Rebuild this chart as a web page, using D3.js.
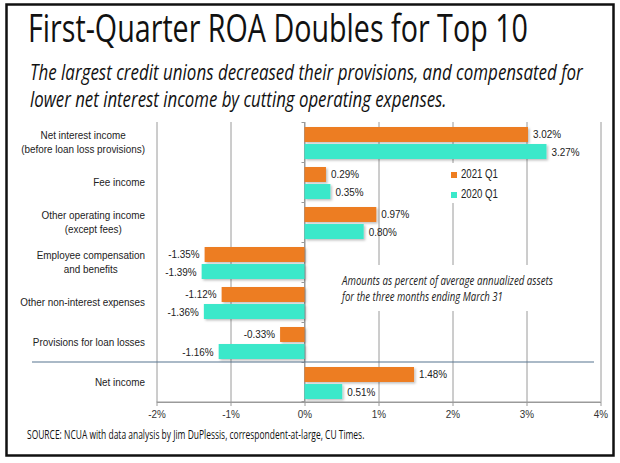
<!DOCTYPE html>
<html><head><meta charset="utf-8">
<script src="https://cdn.jsdelivr.net/npm/d3@7"></script>
<style>body{margin:0;background:#fff}svg{display:block}</style>
</head><body>
<svg id="c" width="620" height="463"></svg>
<script>
const categories = [
  ["Net interest income", "(before loan loss provisions)"],
  ["Fee income"],
  ["Other operating income", "(except fees)"],
  ["Employee compensation", "and benefits"],
  ["Other non-interest expenses"],
  ["Provisions for loan losses"],
  ["Net income"]
];
const seriesNames = ["2021 Q1", "2020 Q1"];
const values2021 = [3.02, 0.29, 0.97, -1.35, -1.12, -0.33, 1.48];
const values2020 = [3.27, 0.35, 0.80, -1.39, -1.36, -1.16, 0.51];
const xTicks = [-2, -1, 0, 1, 2, 3, 4];
const colors = ["#ED7D22", "#3BE8CA"];

const title = "First-Quarter ROA Doubles for Top 10";
const subtitle = ["The largest credit unions decreased their provisions, and compensated for",
                  "lower net interest income by cutting operating expenses."];
const note = ["Amounts as percent of average annualized assets", "for the three months ending March 31"];
const source = "SOURCE: NCUA with data analysis by Jim DuPlessis, correspondent-at-large, CU Times.";

const svg = d3.select("#c");
const condensed = "'Open Sans', 'Liberation Sans', sans-serif";
const arial = "'Liberation Sans', Arial, sans-serif";
const NARROW = 0.9;

function place(parent, px, py, str, opts) {
  const g = parent.append("g").attr("transform", `translate(${px},${py})`);
  const t = g.append("text").attr("x", 0).attr("y", 0).text(str)
    .attr("text-anchor", opts.anchor || "start")
    .attr("font-family", opts.family || arial)
    .attr("font-size", opts.size || 11)
    .attr("fill", opts.fill || "#222");
  if (opts.italic) t.attr("font-style", "italic");
  if (opts.weight) t.attr("font-weight", opts.weight);
  let s = opts.scale || 1;
  if (opts.width) s = opts.width / t.node().getComputedTextLength();
  g.attr("transform", `translate(${px},${py}) scale(${s},1)`);
  return t;
}

// frame
svg.append("rect").attr("x", 6.5).attr("y", 4.5).attr("width", 607).attr("height", 451)
  .attr("fill", "#fff").attr("stroke", "#111").attr("stroke-width", 2.5);

const defs = svg.append("defs");
const f = defs.append("filter").attr("id", "sh").attr("x", "-10%").attr("y", "-30%").attr("width", "130%").attr("height", "170%");
f.append("feDropShadow").attr("dx", 1.5).attr("dy", 1.5).attr("stdDeviation", 1).attr("flood-color", "#000").attr("flood-opacity", 0.25);

// titles
place(svg, 28, 42, title, {family: condensed, size: 38, fill: "#111", width: 500});
const subW = [553, 417];
subtitle.forEach((s, i) => {
  place(svg, 30, 80 + i * 27, s, {family: condensed, size: 21, italic: true, fill: "#111", width: subW[i]});
});

// scales
const x = d3.scaleLinear().domain([-2, 4]).range([156.5, 600.5]);
const y = d3.scaleBand().domain(d3.range(categories.length)).range([122, 402]).padding(0);
const ys = d3.scaleBand().domain(seriesNames).range([5, 37]).paddingInner(0.12);

// gridlines via axis
const xAxis = d3.axisBottom(x).tickValues(xTicks).tickFormat(d => d + "%")
  .tickSize(-(402 - 122)).tickSizeOuter(0).tickPadding(8);
const gx = svg.append("g").attr("transform", "translate(0,402)").call(xAxis);
gx.select(".domain").attr("stroke", "#9a9a9a");
gx.selectAll(".tick line").attr("stroke", "#9a9a9a").attr("y2", -(402 - 122)).attr("y1", 4);
gx.selectAll(".tick text").attr("font-family", arial).attr("font-size", 11).attr("fill", "#333")
  .attr("transform", `scale(${NARROW},1)`);
svg.append("line").attr("x1", x(-2)).attr("x2", x(4)).attr("y1", 402).attr("y2", 402).attr("stroke", "#9a9a9a");

// white boxes behind legend and note
svg.append("rect").attr("x", 446).attr("y", 163).attr("width", 60).attr("height", 40).attr("fill", "#fff");
svg.append("rect").attr("x", 337).attr("y", 265).attr("width", 222).attr("height", 46).attr("fill", "#fff");

// zero axis with category ticks
svg.append("line").attr("x1", x(0)).attr("x2", x(0)).attr("y1", 122).attr("y2", 402).attr("stroke", "#9a9a9a");
svg.append("g").selectAll("line").data(d3.range(categories.length + 1)).join("line")
  .attr("x1", x(0) - 3).attr("x2", x(0))
  .attr("y1", d => d < categories.length ? y(d) + 0.5 : 401.5)
  .attr("y2", d => d < categories.length ? y(d) + 0.5 : 401.5)
  .attr("stroke", "#9a9a9a");

// separator line
svg.append("line").attr("x1", 32).attr("x2", 594).attr("y1", y(6)).attr("y2", y(6))
  .attr("stroke", "#56758f").attr("stroke-width", 1.2);

// bars
const seriesData = [values2021, values2020];
seriesData.forEach((vals, si) => {
  const g = svg.append("g");
  g.selectAll("rect").data(vals).join("rect")
    .attr("x", d => x(Math.min(0, d)))
    .attr("width", d => Math.abs(x(d) - x(0)))
    .attr("y", (d, i) => y(i) + ys(seriesNames[si]))
    .attr("height", ys.bandwidth())
    .attr("fill", colors[si]).attr("filter", "url(#sh)");
  const lg = svg.append("g");
  vals.forEach((d, i) => {
    place(lg, d >= 0 ? x(d) + 5 : x(d) - 5, y(i) + ys(seriesNames[si]) + ys.bandwidth() / 2 + 4,
      d.toFixed(2) + "%", {anchor: d >= 0 ? "start" : "end", size: 11, fill: "#222", scale: NARROW});
  });
});

// category labels: single lines right-aligned; multi-line blocks right-aligned, lines centred
const cl = svg.append("g");
const labelRight = 145;
categories.forEach((lines, i) => {
  const cy = y(i) + y.bandwidth() / 2;
  if (lines.length === 1) {
    place(cl, labelRight, cy + 4, lines[0], {anchor: "end", size: 11, fill: "#222", scale: NARROW});
  } else {
    const tmp = cl.append("text").attr("font-family", arial).attr("font-size", 11);
    const maxW = d3.max(lines, l => { tmp.text(l); return tmp.node().getComputedTextLength(); }) * NARROW;
    tmp.remove();
    const cx = labelRight - maxW / 2;
    lines.forEach((l, j) => {
      place(cl, cx, cy + 4 + (j - (lines.length - 1) / 2) * 14, l,
        {anchor: "middle", size: 11, fill: "#222", scale: NARROW});
    });
  }
});

// legend
seriesNames.forEach((s, i) => {
  svg.append("rect").attr("x", 451).attr("y", 172 + i * 20).attr("width", 6).attr("height", 6).attr("fill", colors[i]);
  place(svg, 461, 178 + i * 20, s, {size: 12, fill: "#222", width: 37});
});

// note
const noteW = [211, 161];
note.forEach((s, i) => {
  place(svg, 342, 285 + i * 16, s, {family: condensed, size: 13, italic: true, fill: "#222", width: noteW[i]});
});

// source
place(svg, 27, 439, source, {family: condensed, size: 12.5, fill: "#111", width: 338});
</script>
</body></html>
